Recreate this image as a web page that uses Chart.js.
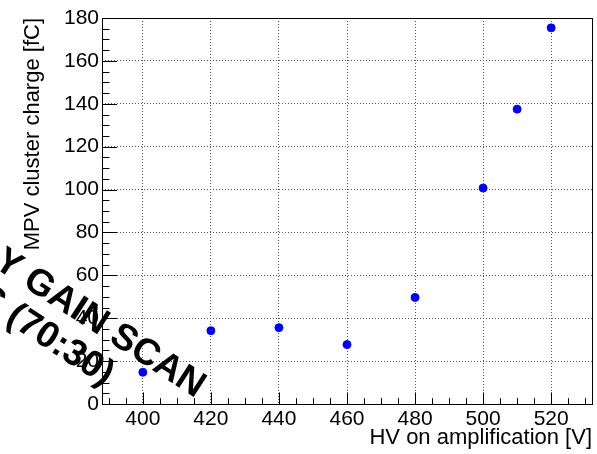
<!DOCTYPE html>
<html>
<head>
<meta charset="utf-8">
<script src="https://cdn.jsdelivr.net/npm/chart.js@4"></script>
<style>
html,body{margin:0;padding:0;background:#fff;}
#wrap{width:597px;height:454px;position:relative;}
</style>
</head>
<body>
<div id="wrap"><canvas id="c" width="597" height="454"></canvas></div>
<script>
const hvValues = [400, 420, 440, 460, 480, 500, 510, 520];
const mpvCharge = [14.8, 34.2, 35.6, 27.7, 49.7, 100.7, 137.5, 175.4];
const xTickLabels = [400, 420, 440, 460, 480, 500, 520];
const yTickLabels = [0, 20, 40, 60, 80, 100, 120, 140, 160, 180];
const watermarkLine1 = 'Y GAIN SCAN';
const watermarkLine2 = 'S (70:30)';

const FONT = "'Liberation Sans', Arial, Helvetica, sans-serif";

const frameTicks = {
  id: 'frameTicks',
  beforeDatasetsDraw(chart) {
    const {ctx, chartArea: a, scales: {x, y}} = chart;
    ctx.save();
    ctx.strokeStyle = '#000';
    ctx.lineWidth = 1;
    ctx.beginPath();
    for (let v = y.min; v <= y.max + 1e-9; v += 5) {
      const py = Math.round(y.getPixelForValue(v)) + 0.5;
      const len = (v % 20 === 0) ? 15 : 7.5;
      ctx.moveTo(a.left, py); ctx.lineTo(a.left + len, py);
    }
    for (let v = Math.ceil(x.min / 5) * 5; v <= x.max; v += 5) {
      const px = Math.round(x.getPixelForValue(v)) + 0.5;
      const len = (v % 20 === 0) ? 11.6 : 5.8;
      ctx.moveTo(px, a.bottom); ctx.lineTo(px, a.bottom - len);
    }
    ctx.stroke();
    ctx.strokeRect(Math.round(a.left) + 0.5, Math.round(a.top) + 0.5,
                   Math.round(a.right - a.left), Math.round(a.bottom - a.top));
    ctx.restore();
  },
  afterDraw(chart) {
    const {ctx} = chart;
    ctx.save();
    ctx.fillStyle = '#000';
    ctx.font = 'bold 37px ' + FONT;
    ctx.translate(41, 282);
    ctx.rotate(33 * Math.PI / 180);
    ctx.textBaseline = 'alphabetic';
    ctx.textAlign = 'left';
    ctx.fillText(watermarkLine1, -ctx.measureText('Y ').width - 14.5, 13.3);
    ctx.fillText(watermarkLine2, -9 - ctx.measureText('S ').width, 53);
    ctx.restore();
  }
};

new Chart(document.getElementById('c'), {
  type: 'scatter',
  data: {
    datasets: [{
      data: hvValues.map((v, i) => ({x: v, y: mpvCharge[i]})),
      backgroundColor: '#0000ff',
      borderColor: '#0000ff',
      pointRadius: 4,
      pointHoverRadius: 4,
      showLine: false
    }]
  },
  options: {
    responsive: false,
    animation: false,
    events: [],
    layout: {padding: {left: 0, right: 2.5, top: 18, bottom: 0}},
    plugins: {legend: {display: false}, tooltip: {enabled: false}},
    scales: {
      x: {
        type: 'linear',
        min: 388, max: 532,
        afterBuildTicks(s) { s.ticks = xTickLabels.map(v => ({value: v})); },
        afterFit(s) { s.height = 50; },
        grid: {color: '#555', lineWidth: 1, drawTicks: false},
        border: {display: false, dash: [1, 2]},
        ticks: {color: '#000', font: {family: FONT, size: 21}, padding: 3, maxRotation: 0, autoSkip: false},
        title: {display: true, text: 'HV on amplification [V]', align: 'end', color: '#000',
                font: {family: FONT, size: 22}, padding: {top: 0, bottom: 3}}
      },
      y: {
        type: 'linear',
        min: 0, max: 180,
        afterBuildTicks(s) { s.ticks = yTickLabels.map(v => ({value: v})); },
        afterFit(s) { s.width = 102; },
        grid: {color: '#555', lineWidth: 1, drawTicks: false},
        border: {display: false, dash: [1, 2]},
        ticks: {color: '#000', font: {family: FONT, size: 21}, padding: 3, autoSkip: false},
        title: {display: true, text: 'MPV cluster charge [fC]', align: 'end', color: '#000',
                font: {family: FONT, size: 22}, padding: {top: 20, bottom: 0}}
      }
    }
  },
  plugins: [frameTicks]
});
</script>
</body>
</html>
